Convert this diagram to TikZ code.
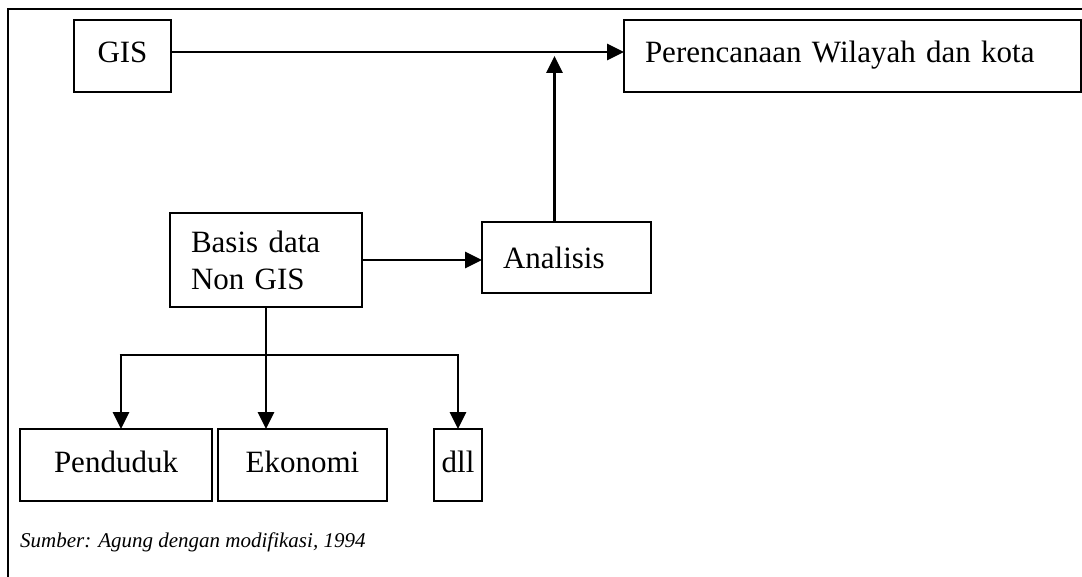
\documentclass[tikz,border=0pt]{standalone}
\usepackage{fontspec}
\setmainfont{Liberation Serif}
\usepackage{tikz}
\usetikzlibrary{arrows.meta, positioning, calc}

\tikzset{
  box/.style={draw, line width=1.8pt, inner sep=0pt, outer sep=0pt, font=\fontsize{31}{37}\selectfont},
  leftbox/.style={box, align=left, inner xsep=21pt},
  arr/.style={line width=2.8pt, -{Triangle[length=17pt, width=16pt]}}
}

\begin{document}
\begin{tikzpicture}[x=1pt, y=-1pt]
  \useasboundingbox (0,0) rectangle (1082,577);
  % frame
  \draw[line width=1.8pt] (8,577) -- (8,9) -- (1082,9);

  % top row
  \node[box, anchor=north west, minimum width=97pt, minimum height=72pt, text depth=8pt] (gis) at (74,20) {GIS};
  \node[leftbox, anchor=north west, text width=415pt, minimum height=72pt, text depth=8pt] (plan) at (624,20) {Perencanaan Wilayah dan kota};

  % middle row
  \node[leftbox, anchor=north west, text width=150pt, minimum height=94pt] (basis) at (170,213) {Basis data\\Non GIS};
  \node[leftbox, anchor=north west, text width=127pt, minimum height=71pt] (ana) at (482,222) {Analisis};

  % bottom row
  \node[box, anchor=north west, minimum width=192pt, minimum height=72pt, text depth=6pt] (pend) at (20,429) {Penduduk};
  \node[box, anchor=north west, minimum width=169pt, minimum height=72pt, text depth=6pt] (eko) at (218,429) {Ekonomi};
  \node[box, anchor=north west, minimum width=48pt, minimum height=72pt, text depth=6pt] (dll) at (434,429) {dll};

  \node[anchor=west, inner sep=0pt, font=\fontsize{21}{25}\selectfont\itshape] (src) at (20,542) {Sumber: Agung dengan modifikasi, 1994};

  % connectors
  \draw[arr] ([yshift=4pt]gis.east) -- ([yshift=4pt]plan.west);
  \draw[arr] ([xshift=-12pt]ana.north) -- ([xshift=-12pt]ana.north |- gis.east);
  \draw[arr] (basis.east) -- (basis.east -| ana.west);

  \coordinate (split) at ($(basis.south)+(0,48)$);
  \draw[line width=2.8pt] (basis.south) -- (split);
  \foreach \x/\n in {121/pend, 266/eko, 458/dll} {
    \coordinate (t\n) at (\x,355);
    \draw[arr] (t\n) -- (t\n |- \n.north);
  }
  \draw[line width=2.8pt] ([xshift=-1.4pt]tpend) -- ([xshift=1.4pt]tdll);
\end{tikzpicture}
\end{document}
